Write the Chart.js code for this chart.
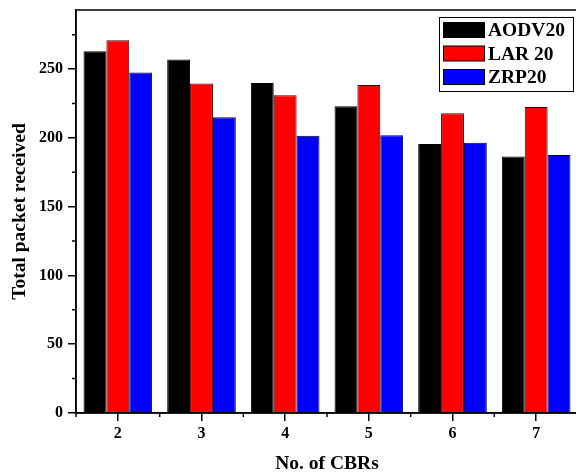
<!DOCTYPE html>
<html>
<head>
<meta charset="utf-8">
<script src="https://cdn.jsdelivr.net/npm/chart.js@4/dist/chart.umd.min.js"></script>
<style>
  html, body { margin: 0; padding: 0; background: #fff; overflow: hidden; width: 576px; height: 472px; }
  canvas { display: block; }
</style>
</head>
<body>
<canvas id="myChart" width="580" height="472"></canvas>
<script>
let cbrs = ['2', '3', '4', '5', '6', '7'];
let aodv = [263, 257, 240, 223, 195.5, 186.5];
let lar = [271, 239.5, 231, 238.5, 218, 222.5];
let zrp = [247.5, 215, 201.5, 202, 196.5, 187.5];
let yTicks = [0, 50, 100, 150, 200, 250];

const serif = '"Liberation Serif", "Times New Roman", serif';

// frame, minor ticks and the boxed legend
const extras = {
    id: 'extras',
    afterDraw(chart) {
        const ctx = chart.ctx;
        const a = chart.chartArea;
        const x = chart.scales.x, y = chart.scales.y;
        ctx.save();
        ctx.strokeStyle = '#000';
        ctx.lineWidth = 1.5;
        ctx.strokeRect(a.left, a.top, a.right - a.left, a.bottom - a.top);

        // minor ticks
        ctx.beginPath();
        for (let v = 25; v < y.max; v += 50) {
            const py = y.getPixelForValue(v);
            ctx.moveTo(a.left, py);
            ctx.lineTo(a.left - 4, py);
        }
        const half = (x.getPixelForValue(1) - x.getPixelForValue(0)) / 2;
        for (let i = 0; i <= cbrs.length; i++) {
            const px = x.getPixelForValue(0) - half + i * half * 2;
            ctx.moveTo(px, a.bottom);
            ctx.lineTo(px, a.bottom + 4);
        }
        ctx.stroke();

        // legend
        ctx.lineWidth = 1;
        ctx.strokeRect(439.5, 17.5, 134, 74);
        ctx.font = 'bold 19.5px ' + serif;
        ctx.textBaseline = 'middle';
        chart.data.datasets.forEach((ds, i) => {
            const cy = 30 + i * 23.5;
            ctx.fillStyle = ds.backgroundColor;
            ctx.fillRect(443, cy - 7.5, 41, 15);
            ctx.strokeStyle = '#000';
            ctx.strokeRect(443.5, cy - 7.5, 41, 15);
            ctx.fillStyle = '#000';
            ctx.fillText(ds.label, 488, cy + 1);
        });
        ctx.restore();
    }
};

let ctx = document.getElementById('myChart').getContext('2d');
let myChart = new Chart(ctx, {
    type: 'bar',
    data: {
        labels: cbrs,
        datasets: [
            { label: 'AODV20', data: aodv, backgroundColor: '#000000', borderColor: '#000000', borderWidth: 1 },
            { label: 'LAR 20', data: lar, backgroundColor: '#ff0000', borderColor: '#3a0000', borderWidth: 1 },
            { label: 'ZRP20', data: zrp, backgroundColor: '#0000ff', borderColor: '#00003a', borderWidth: 1 }
        ]
    },
    options: {
        responsive: false,
        animation: false,
        categoryPercentage: 0.82,
        barPercentage: 1.0,
        layout: { padding: { top: 10, right: 2, left: 0, bottom: 0 } },
        plugins: {
            legend: { display: false },
            tooltip: { enabled: false }
        },
        scales: {
            x: {
                offset: true,
                grid: { offset: false, drawOnChartArea: false, drawTicks: true, tickLength: 8, color: '#000', lineWidth: 1.5 },
                border: { display: true, color: '#000', width: 1.5 },
                ticks: { color: '#000', font: { family: serif, size: 16, weight: 'bold' }, padding: 3, maxRotation: 0 },
                title: { display: true, text: 'No. of CBRs', color: '#000', font: { family: serif, size: 19.5, weight: 'bold', lineHeight: 1 }, padding: { top: 0, bottom: -2 } },
                afterFit(scale) { scale.height = 59; scale.paddingLeft = 0; scale.paddingRight = 0; }
            },
            y: {
                min: 0,
                max: 293,
                afterBuildTicks(scale) { scale.ticks = yTicks.map(v => ({ value: v })); },
                grid: { drawOnChartArea: false, drawTicks: true, tickLength: 8, color: '#000', lineWidth: 1.5 },
                border: { display: true, color: '#000', width: 1.5 },
                ticks: { color: '#000', font: { family: serif, size: 16, weight: 'bold' }, padding: 5 },
                title: { display: true, text: 'Total packet received', color: '#000', font: { family: serif, size: 19.5, weight: 'bold', lineHeight: 1 }, padding: { top: 10, bottom: 0 } },
                afterFit(scale) { scale.width = 76; scale.paddingTop = 0; scale.paddingBottom = 0; }
            }
        }
    },
    plugins: [extras]
});
</script>
</body>
</html>
